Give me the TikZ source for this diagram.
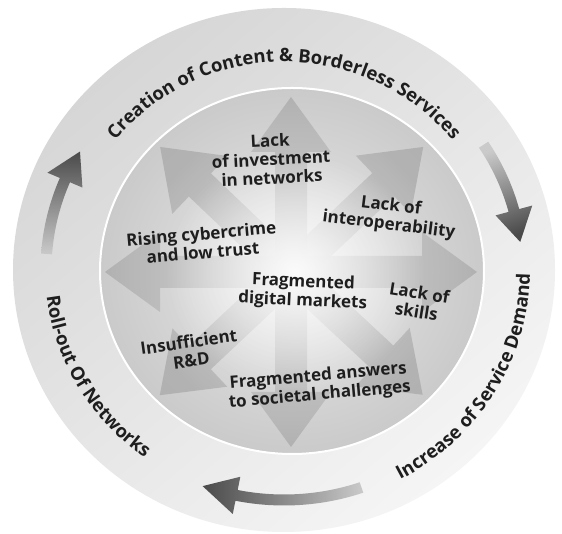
\documentclass[tikz,border=0pt]{standalone}
\usepackage{fontspec}
\setmainfont{Open Sans}
\usetikzlibrary{decorations.text,fadings}
\tikzfading[name=glowfade, inner color=transparent!0, outer color=transparent!100]
\definecolor{txt}{HTML}{1E1E1E}
\definecolor{ringdark}{HTML}{D6D6D6}
\definecolor{ringlight}{HTML}{F5F5F5}
\definecolor{diskin}{HTML}{EAEAEA}
\definecolor{diskout}{HTML}{CACACA}
\definecolor{arrlight}{HTML}{D6D6D6}
\definecolor{arrdark}{HTML}{ABABAB}
\definecolor{cyclight}{HTML}{CACACA}
\definecolor{cycdark}{HTML}{4A4A4A}
\newcommand\outerfont{\bfseries\fontsize{18.5}{20}\selectfont\color{txt}}
% star arrow: angle, length
\newcommand\starrow[2]{%
  \shade[starshade, shading angle={90+#1}]
    ([shift={(#1+90:16)}]0,0) -- ([shift={(#1+90:16)}]#1:{#2-55})
    -- ([shift={(#1+90:40)}]#1:{#2-55}) -- (#1:#2)
    -- ([shift={(#1-90:40)}]#1:{#2-55}) -- ([shift={(#1-90:16)}]#1:{#2-55})
    -- ([shift={(#1-90:16)}]0,0) -- cycle;}
% cycle arrow: tail angle, head-base angle, tip angle, shading options
\newcommand\cycarrow[4]{%
  \shade[#4]
    (#1:{238+5.5} and {230+5.5}) arc[start angle=#1, end angle=#2, x radius=243.5, y radius=235.5]
    -- (#2:{238+19} and {230+19}) -- (#3:238 and 230)
    -- (#2:{238-19} and {230-19}) -- (#2:{238-5.5} and {230-5.5})
    arc[start angle=#2, end angle=#1, x radius=232.5, y radius=224.5] -- cycle;}
\begin{document}
\begin{tikzpicture}[x=1pt,y=1pt,
  lbl/.style={font=\bfseries\fontsize{17}{18.8}\selectfont, text=txt, align=center, inner sep=0pt},
  starshade/.style={left color=arrlight, right color=arrdark, fill opacity=0.8}]
\useasboundingbox (0,0) rectangle (562,534);
\fill[white] (0,0) rectangle (562,534);
% outer ring
\shade[top color=ringdark, bottom color=ringlight, shading angle=40] (284,264) ellipse [x radius=271, y radius=262];
% inner disk
\shade[inner color=diskin, outer color=diskout] (292,263) ellipse [x radius=192, y radius=183];
% star arrows
\begin{scope}[shift={(291,262)}]
  \starrow{90}{175}
  \starrow{270}{175}
  \starrow{180}{186}
  \starrow{0}{186}
  \starrow{136.3}{181}
  \starrow{43.4}{182}
  \starrow{223.2}{180}
  \starrow{317}{180}
\end{scope}
\fill[white, path fading=glowfade, fill opacity=0.9] (295,262) ellipse [x radius=130, y radius=120];
\draw[white, line width=2pt] (292,263) ellipse [x radius=192, y radius=183];
% cycle arrows
\begin{scope}[shift={(284,264)}]
  \cycarrow{176}{157}{149}{top color=cycdark, bottom color=cyclight}
  \cycarrow{33}{15}{7}{top color=cyclight, bottom color=cycdark, shading angle=20}
  \cycarrow{-71}{-101.5}{-110}{left color=cycdark, right color=cyclight}
  % curved texts
  \path[decorate, decoration={text along path, text align=center,
     text={|\outerfont|Creation of Content {\&} Borderless Services}}]
     (170:215 and 208) arc[start angle=170, end angle=10, x radius=215, y radius=208];
  \path[decorate, decoration={text along path, text align=center,
     text={|\outerfont|Increase of Service Demand}}]
     (-91:246 and 238) arc[start angle=-91, end angle=29, x radius=246, y radius=238];
  \path[decorate, decoration={text along path, text align=center,
     text={|\outerfont|Roll-out Of Networks}}]
     (150:239 and 231) arc[start angle=150, end angle=270, x radius=239, y radius=231];
\end{scope}
% inner labels
\node[lbl, rotate=3]   (invest)   at (271,375) {Lack\\of investment\\in networks};
\node[lbl, rotate=-7]  (interop)  at (390,318) {Lack of\\interoperability};
\node[lbl, rotate=5]   (cyber)    at (202,291) {Rising cybercrime\\and low trust};
\node[lbl, rotate=-2.5](markets)  at (303,242) {Fragmented\\digital markets};
\node[lbl, rotate=-9]  (skills)   at (418,232) {Lack of\\skills};
\node[lbl, rotate=8]   (rnd)      at (190,183) {Insufficient\\R\&D};
\node[lbl, rotate=5]   (societal) at (319,148) {Fragmented answers\\to societal challenges};
\end{tikzpicture}
\end{document}
